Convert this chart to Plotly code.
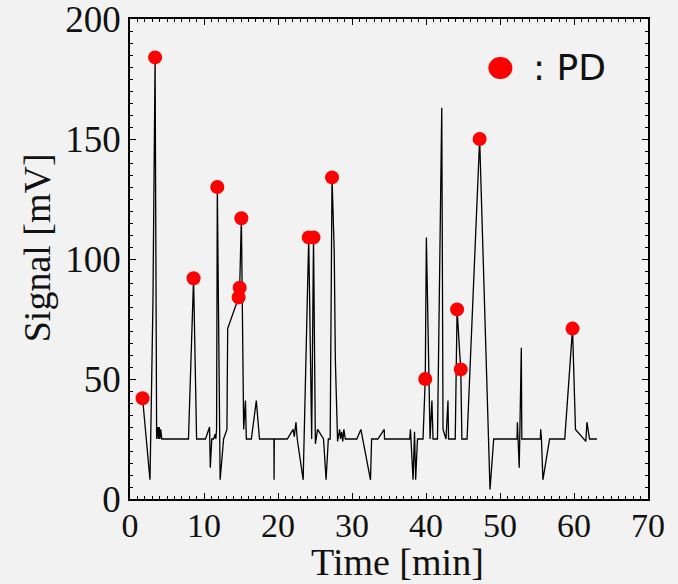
import plotly.graph_objects as go

# ---- data ----
time_min = [1.7, 2.7, 2.83, 2.97, 3.1, 3.39, 3.5, 3.6, 3.75, 3.85, 3.95, 4.05, 4.15, 4.3,
            7.9, 8.59, 9.0, 10.2, 10.75, 10.85, 11.05, 11.3, 11.5, 11.6, 11.7, 11.8,
            12.18, 12.65, 13.1, 13.2, 14.45, 14.68, 14.82, 15.05, 15.27, 15.36, 15.6, 15.72,
            16.4, 17.07, 17.5, 19.45, 19.47, 19.5, 21.25, 22.05, 22.2, 22.43, 22.6, 23.4,
            23.7, 24.0, 24.15, 24.55, 24.8, 25.05, 25.35, 26.15, 26.5, 26.8, 27.05, 27.3,
            27.6, 27.75, 28.05, 28.33, 28.45, 28.6, 28.75, 28.9, 29.1, 30.65, 31.2, 32.5,
            32.65, 33.5, 34.35, 34.4, 37.8, 37.9, 38.25, 38.45, 38.6, 38.85, 39.6, 39.9,
            40.05, 40.55, 40.8, 40.95, 41.55, 42.13, 42.3, 42.5, 42.7, 42.97, 43.05, 43.95,
            44.2, 44.55, 44.7, 44.85, 45.55, 47.25, 48.65, 49.15, 52.3, 52.35, 52.6, 52.88,
            52.95, 55.45, 55.5, 55.6, 55.8, 56.7, 58.75, 59.8, 60.2, 61.6, 61.75, 62.1, 63.1]
signal_mv = [42, 8, 31, 57, 82, 184, 28, 25, 30, 25, 30, 25, 29, 25,
             25, 92, 25, 25, 30, 13, 25, 25, 27, 25, 29, 130,
             8, 25, 29, 71, 82, 84, 88, 117, 55, 29, 41, 25,
             25, 41, 25, 25, 8, 25, 25, 29, 26, 32, 25, 8,
             48, 87, 109, 25, 109, 23, 29, 25, 8, 25, 25, 134,
             103, 58, 24, 29, 25, 28, 24, 29, 25, 25, 29, 8,
             25, 25, 29, 25, 25, 29, 8, 28, 8, 25, 25, 50,
             109, 25, 41, 25, 25, 163, 29, 27, 25, 41, 25, 25,
             79, 61, 54, 25, 25, 150, 4, 25, 25, 32, 13, 63,
             25, 25, 29, 25, 8, 25, 25, 71, 29, 24, 32, 25, 25]

pd_time = [1.7, 3.39, 8.59, 11.8, 14.68, 14.82, 15.05, 24.15, 24.8, 27.3,
           39.9, 44.2, 44.7, 47.25, 59.8]
pd_signal = [42, 184, 92, 130, 84, 88, 117, 109, 109, 134,
             50, 79, 54, 150, 71]

x_ticks = [0, 10, 20, 30, 40, 50, 60, 70]
y_ticks = [0, 50, 100, 150, 200]

x_title = "Time [min]"
y_title = "Signal [mV]"
legend_label = ": PD"

# ---- figure ----
fig = go.Figure()
fig.add_trace(go.Scatter(x=time_min, y=signal_mv, mode="lines",
                         line=dict(color="black", width=1.3),
                         showlegend=False, hoverinfo="skip"))
fig.add_trace(go.Scatter(x=pd_time, y=pd_signal, mode="markers",
                         marker=dict(color="#ff0000", size=14, line=dict(width=0)),
                         name=legend_label, showlegend=False))

serif = "Liberation Serif, Times New Roman, serif"
axis_common = dict(showline=True, linecolor="black", linewidth=1.5, mirror="allticks",
                   ticks="inside", ticklen=6, tickwidth=1.2, tickcolor="black",
                   showgrid=False, zeroline=False, ticklabeloverflow="allow",
                   automargin=False)

fig.update_xaxes(range=[0, 70], tickvals=x_ticks, ticktext=[str(v) for v in x_ticks],
                 tickfont=dict(family=serif, size=34, color="#111"), ticklabelstandoff=-5,
                 minor=dict(dtick=1, ticks="inside", ticklen=3, tickcolor="black", tickwidth=1),
                 **axis_common)
fig.update_yaxes(range=[0, 200], tickvals=y_ticks, ticktext=[str(v) for v in y_ticks],
                 tickfont=dict(family=serif, size=37, color="#111"),
                 minor=dict(dtick=5, ticks="inside", ticklen=3, tickcolor="black", tickwidth=1),
                 **axis_common)

# axis titles
title_font = dict(family=serif, size=38, color="#111")
fig.add_annotation(xref="paper", yref="paper", x=0.517, y=-0.131, xanchor="center", yanchor="middle",
                   text=x_title, showarrow=False, font=title_font)
fig.add_annotation(xref="paper", yref="paper", x=-0.178, y=0.524, xanchor="center", yanchor="middle",
                   text=y_title, showarrow=False, textangle=-90, font=title_font)

# legend key (drawn in paper space)
fig.add_shape(type="circle", xref="paper", yref="paper", xsizemode="pixel", ysizemode="pixel",
              xanchor=0.715, yanchor=0.898, x0=-12, x1=12, y0=-11, y1=11,
              fillcolor="#ff0000", line=dict(width=0))
fig.add_annotation(xref="paper", yref="paper", x=0.775, y=0.898, xanchor="left", yanchor="middle",
                   text=legend_label, showarrow=False,
                   font=dict(family="DejaVu Sans, Noto Sans, sans-serif", size=36, color="#111"))

fig.update_layout(width=678, height=584, margin=dict(l=130, r=30, t=19, b=85),
                  paper_bgcolor="#f2f2f2", plot_bgcolor="#f2f2f2",
                  showlegend=False)

fig.write_html("out.html")
